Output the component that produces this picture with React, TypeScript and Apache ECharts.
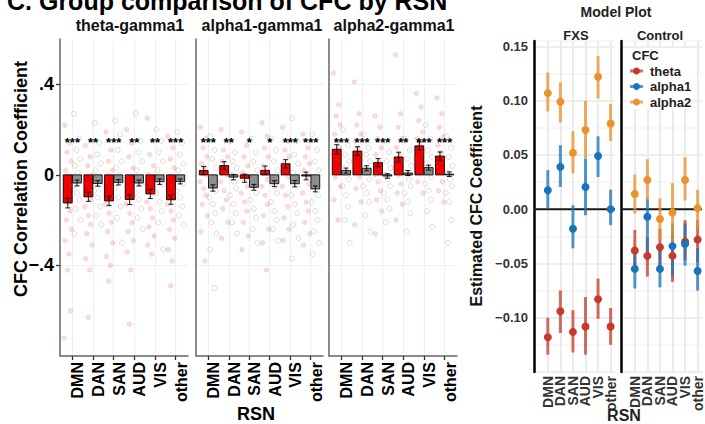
import React, { useEffect, useRef } from "react";
import * as echarts from "echarts";

const FONT = "'Liberation Sans', Arial, Helvetica, sans-serif";

const RSN = ["DMN", "DAN", "SAN", "AUD", "VIS", "other"];
const CAT_POS = [1, 2, 3, 4, 5, 6];
const FACETS = ["theta-gamma1", "alpha1-gamma1", "alpha2-gamma1"];
const LEFT_Y_TICKS = [-0.4, 0, 0.4];
const MODEL_BANDS = ["theta", "alpha1", "alpha2"];

// ---- group means / standard errors (left panel) ----
const THETA_FXS = [-0.124, -0.097, -0.115, -0.109, -0.084, -0.11];
const THETA_CTRL = [-0.036, -0.038, -0.033, -0.036, -0.03, -0.029];
const ALPHA1_FXS = [0.019, 0.041, -0.015, 0.02, 0.049, -0.005];
const ALPHA1_CTRL = [-0.058, -0.01, -0.055, -0.039, -0.039, -0.062];
const ALPHA2_FXS = [0.113, 0.105, 0.054, 0.079, 0.128, 0.083];
const ALPHA2_CTRL = [0.019, 0.029, -0.005, 0.008, 0.032, 0.003];

const THETA_FXS_SE = [0.022, 0.02, 0.021, 0.022, 0.02, 0.02];
const THETA_CTRL_SE = [0.013, 0.012, 0.012, 0.013, 0.012, 0.011];
const ALPHA1_FXS_SE = [0.018, 0.017, 0.018, 0.019, 0.018, 0.017];
const ALPHA1_CTRL_SE = [0.014, 0.012, 0.013, 0.013, 0.014, 0.013];
const ALPHA2_FXS_SE = [0.02, 0.019, 0.018, 0.021, 0.018, 0.018];
const ALPHA2_CTRL_SE = [0.011, 0.011, 0.01, 0.011, 0.011, 0.01];

const THETA_STARS = ["***", "**", "***", "**", "**", "***"];
const ALPHA1_STARS = ["***", "**", "*", "*", "***", "***"];
const ALPHA2_STARS = ["***", "***", "***", "**", "***", "***"];

// ---- individual subject values ----
const THETA_FXS_PTS = [
  [0.22, 0.14, 0.1, 0.06, 0.02, -0.02, -0.05, -0.09, -0.12, -0.16, -0.2, -0.24, -0.29, -0.35, -0.42, -0.6, -0.72],
  [0.13, 0.08, 0.04, 0.0, -0.04, -0.07, -0.11, -0.14, -0.18, -0.22, -0.26, -0.31, -0.37, -0.42, -0.63],
  [0.19, 0.11, 0.06, 0.02, -0.02, -0.06, -0.1, -0.13, -0.17, -0.21, -0.25, -0.3, -0.36, -0.4, -0.47],
  [0.2, 0.14, 0.08, 0.03, -0.01, -0.05, -0.09, -0.13, -0.17, -0.21, -0.25, -0.29, -0.34, -0.42, -0.66],
  [0.25, 0.15, 0.09, 0.04, 0.0, -0.04, -0.08, -0.12, -0.15, -0.19, -0.23, -0.27, -0.31, -0.35],
  [0.17, 0.12, 0.07, 0.03, -0.01, -0.05, -0.09, -0.13, -0.16, -0.2, -0.24, -0.28, -0.33, -0.38, -0.49],
];
const THETA_CTRL_PTS = [
  [0.27, 0.16, 0.11, 0.07, 0.04, 0.01, -0.02, -0.05, -0.08, -0.11, -0.15, -0.2, -0.26],
  [0.23, 0.14, 0.09, 0.05, 0.02, -0.01, -0.04, -0.07, -0.1, -0.14, -0.18, -0.22],
  [0.24, 0.18, 0.11, 0.06, 0.03, 0.0, -0.03, -0.06, -0.1, -0.14, -0.19, -0.3],
  [0.27, 0.15, 0.1, 0.06, 0.02, -0.01, -0.04, -0.08, -0.11, -0.15, -0.19, -0.24],
  [0.2, 0.15, 0.1, 0.06, 0.02, -0.01, -0.04, -0.08, -0.12, -0.16, -0.21, -0.33],
  [0.19, 0.14, 0.09, 0.05, 0.02, -0.01, -0.04, -0.07, -0.1, -0.14, -0.18, -0.22],
];
const ALPHA1_FXS_PTS = [
  [0.21, 0.16, 0.12, 0.08, 0.05, 0.03, 0.0, -0.03, -0.06, -0.09, -0.13, -0.18, -0.25, -0.38],
  [0.2, 0.15, 0.11, 0.08, 0.06, 0.03, 0.0, -0.03, -0.07, -0.11, -0.15, -0.21, -0.28],
  [0.19, 0.13, 0.08, 0.04, 0.01, -0.02, -0.05, -0.08, -0.12, -0.16, -0.21, -0.27, -0.33],
  [0.23, 0.17, 0.12, 0.08, 0.04, 0.01, -0.02, -0.05, -0.09, -0.13, -0.18, -0.24, -0.3, -0.42],
  [0.21, 0.15, 0.11, 0.08, 0.05, 0.02, -0.01, -0.05, -0.09, -0.14, -0.19, -0.24, -0.29],
  [0.18, 0.12, 0.08, 0.05, 0.02, -0.01, -0.04, -0.08, -0.12, -0.16, -0.21, -0.26, -0.31],
];
const ALPHA1_CTRL_PTS = [
  [0.17, 0.11, 0.07, 0.03, -0.01, -0.04, -0.07, -0.1, -0.13, -0.17, -0.21, -0.26, -0.33, -0.5],
  [0.15, 0.1, 0.06, 0.03, 0.0, -0.03, -0.06, -0.09, -0.13, -0.17, -0.21, -0.26],
  [0.16, 0.1, 0.06, 0.02, -0.02, -0.05, -0.08, -0.11, -0.15, -0.19, -0.24, -0.3],
  [0.16, 0.11, 0.06, 0.02, -0.02, -0.05, -0.08, -0.12, -0.16, -0.2, -0.24, -0.29],
  [0.25, 0.15, 0.09, 0.05, 0.01, -0.02, -0.05, -0.09, -0.13, -0.17, -0.22, -0.28, -0.37],
  [0.18, 0.11, 0.06, 0.02, -0.02, -0.05, -0.09, -0.12, -0.16, -0.2, -0.25, -0.3, -0.35],
];
const ALPHA2_FXS_PTS = [
  [0.45, 0.31, 0.26, 0.22, 0.18, 0.15, 0.12, 0.09, 0.06, 0.03, -0.01, -0.05, -0.11, -0.2],
  [0.41, 0.27, 0.22, 0.18, 0.15, 0.12, 0.09, 0.06, 0.03, -0.01, -0.06, -0.12, -0.22],
  [0.26, 0.21, 0.16, 0.12, 0.09, 0.06, 0.03, 0.0, -0.03, -0.07, -0.11, -0.16, -0.26],
  [0.53, 0.27, 0.21, 0.16, 0.12, 0.09, 0.06, 0.03, 0.0, -0.04, -0.08, -0.13, -0.2],
  [0.36, 0.3, 0.24, 0.19, 0.16, 0.13, 0.1, 0.07, 0.04, 0.01, -0.03, -0.08],
  [0.34, 0.27, 0.21, 0.17, 0.13, 0.1, 0.07, 0.04, 0.01, -0.03, -0.07, -0.12],
];
const ALPHA2_CTRL_PTS = [
  [0.2, 0.13, 0.09, 0.06, 0.03, 0.01, -0.02, -0.05, -0.09, -0.14, -0.2, -0.3],
  [0.18, 0.12, 0.09, 0.06, 0.03, 0.01, -0.02, -0.05, -0.08, -0.12, -0.18, -0.25],
  [0.15, 0.1, 0.06, 0.03, 0.0, -0.02, -0.05, -0.08, -0.11, -0.15, -0.21],
  [0.16, 0.11, 0.07, 0.04, 0.01, -0.02, -0.05, -0.08, -0.12, -0.17, -0.25],
  [0.22, 0.16, 0.11, 0.08, 0.05, 0.02, -0.01, -0.04, -0.07, -0.11, -0.16, -0.23],
  [0.17, 0.12, 0.08, 0.04, 0.01, -0.02, -0.05, -0.08, -0.12, -0.2, -0.3],
];

// ---- model plot estimates ----
const FXS_THETA_EST = [-0.118, -0.094, -0.113, -0.108, -0.083, -0.108];
const FXS_THETA_LO = [-0.134, -0.114, -0.132, -0.134, -0.101, -0.125];
const FXS_THETA_HI = [-0.1, -0.075, -0.093, -0.081, -0.064, -0.091];
const FXS_ALPHA1_EST = [0.0175, 0.039, -0.018, 0.0205, 0.049, 0.0];
const FXS_ALPHA1_LO = [0.001, 0.0205, -0.036, -0.0055, 0.0297, -0.0147];
const FXS_ALPHA1_HI = [0.036, 0.059, 0.0037, 0.0467, 0.0672, 0.018];
const FXS_ALPHA2_EST = [0.107, 0.099, 0.052, 0.073, 0.122, 0.079];
const FXS_ALPHA2_LO = [0.09, 0.08, 0.033, 0.047, 0.102, 0.063];
const FXS_ALPHA2_HI = [0.126, 0.117, 0.072, 0.1, 0.141, 0.097];

const CTRL_THETA_EST = [-0.038, -0.043, -0.035, -0.043, -0.03, -0.028];
const CTRL_THETA_LO = [-0.055, -0.062, -0.056, -0.067, -0.047, -0.049];
const CTRL_THETA_HI = [-0.019, -0.026, -0.018, -0.022, -0.01, -0.01];
const CTRL_ALPHA1_EST = [-0.055, -0.007, -0.055, -0.034, -0.032, -0.057];
const CTRL_ALPHA1_LO = [-0.073, -0.047, -0.072, -0.062, -0.052, -0.075];
const CTRL_ALPHA1_HI = [-0.037, 0.01, -0.035, -0.013, -0.013, -0.036];
const CTRL_ALPHA2_EST = [0.014, 0.027, -0.009, -0.003, 0.027, 0.001];
const CTRL_ALPHA2_LO = [-0.004, 0.008, -0.028, -0.035, 0.008, -0.018];
const CTRL_ALPHA2_HI = [0.032, 0.046, 0.01, 0.024, 0.048, 0.018];

// fixed horizontal jitter offsets for the subject dots
const JITTER = [-0.15, 0.09, -0.03, 0.16, -0.1, 0.04, 0.13, -0.17, 0.0, 0.11, -0.07, 0.18, -0.13, 0.06, -0.01, 0.14, -0.18];
const STAR_Y = 0.145;
const DODGE = 0.225;
const MODEL_Y_MIN = -0.15;

const BAND_COLORS = ["#C8392B", "#1B74B9", "#E9922F"];

const fmtLeft = (v: number) => {
  if (Math.abs(v - 0.4) < 1e-9) return ".4";
  if (Math.abs(v) < 1e-9) return "0";
  if (Math.abs(v + 0.4) < 1e-9) return "\u2212.4";
  return "";
};
const fmtRight = (v: number) => {
  const r = Math.round(v * 1000) / 1000;
  const q = r / 0.05;
  if (Math.abs(q - Math.round(q)) > 1e-6) return "";
  if (r < -0.1 - 1e-9 || r > 0.15 + 1e-9) return "";
  return (r < -1e-9 ? "\u2212" : "") + Math.abs(r).toFixed(2);
};

function barSeries(gi: number, off: number, means: number[], fill: string) {
  return {
    type: "custom",
    xAxisIndex: gi,
    yAxisIndex: gi,
    z: 2,
    silent: true,
    data: means.map((m, i) => [CAT_POS[i] + off, m]),
    renderItem: (params: any, api: any) => {
      const x = api.value(0);
      const v = api.value(1);
      const a = api.coord([x - 0.215, v]);
      const b = api.coord([x + 0.215, 0]);
      return {
        type: "rect",
        shape: { x: a[0], y: Math.min(a[1], b[1]), width: b[0] - a[0], height: Math.max(Math.abs(b[1] - a[1]), 0.5) },
        style: { fill, stroke: "#000", lineWidth: 0.9 },
      };
    },
  };
}

function errSeries(gi: number, off: number, means: number[], se: number[]) {
  return {
    type: "custom",
    xAxisIndex: gi,
    yAxisIndex: gi,
    z: 4,
    silent: true,
    data: means.map((m, i) => [CAT_POS[i] + off, m, se[i]]),
    renderItem: (params: any, api: any) => {
      const x = api.value(0);
      const m = api.value(1);
      const e = api.value(2);
      const t = api.coord([x, m + e]);
      const b = api.coord([x, m - e]);
      const w = 2.5;
      const st = { stroke: "#000", lineWidth: 0.9 };
      return {
        type: "group",
        children: [
          { type: "line", shape: { x1: t[0], y1: t[1], x2: b[0], y2: b[1] }, style: st },
          { type: "line", shape: { x1: t[0] - w, y1: t[1], x2: t[0] + w, y2: t[1] }, style: st },
          { type: "line", shape: { x1: b[0] - w, y1: b[1], x2: b[0] + w, y2: b[1] }, style: st },
        ],
      };
    },
  };
}

function starSeries(gi: number, stars: string[]) {
  return {
    type: "custom",
    xAxisIndex: gi,
    yAxisIndex: gi,
    z: 5,
    silent: true,
    data: stars.map((s, i) => [CAT_POS[i], STAR_Y]),
    renderItem: (params: any, api: any) => {
      const p = api.coord([api.value(0), api.value(1)]);
      return {
        type: "text",
        x: p[0],
        y: p[1],
        style: {
          text: stars[params.dataIndex],
          fill: "#000",
          fontSize: 13,
          fontWeight: "bold",
          fontFamily: FONT,
          align: "center",
          verticalAlign: "middle",
        },
      };
    },
  };
}

function ptsSeries(gi: number, off: number, pts: number[][], itemStyle: any, size: number) {
  return {
    type: "scatter",
    xAxisIndex: gi,
    yAxisIndex: gi,
    z: 3,
    silent: true,
    symbolSize: size,
    itemStyle,
    data: pts.flatMap((arr, i) => arr.map((v, k) => [CAT_POS[i] + off + JITTER[k % JITTER.length], v])),
  };
}

function facetSeries(gi: number, fxs: number[], fxsSe: number[], ctrl: number[], ctrlSe: number[], fxsPts: number[][], ctrlPts: number[][], stars: string[]) {
  return [
    barSeries(gi, -DODGE, fxs, "#F00000"),
    barSeries(gi, DODGE, ctrl, "#8F8F8F"),
    ptsSeries(gi, -DODGE, fxsPts, { color: "rgba(235,40,40,0.2)", borderColor: "rgba(225,40,40,0.25)", borderWidth: 0.6 }, 4.5),
    ptsSeries(gi, DODGE, ctrlPts, { color: "rgba(255,255,255,0)", borderColor: "rgba(120,120,120,0.4)", borderWidth: 0.8 }, 5),
    errSeries(gi, -DODGE, fxs, fxsSe),
    errSeries(gi, DODGE, ctrl, ctrlSe),
    starSeries(gi, stars),
  ];
}

function zeroLine(gi: number) {
  return {
    type: "custom",
    xAxisIndex: gi,
    yAxisIndex: gi,
    z: 1,
    silent: true,
    data: [[1, 0]],
    renderItem: (params: any, api: any) => {
      const p = api.coord([1, 0]);
      const cs = params.coordSys;
      return {
        type: "line",
        shape: { x1: cs.x, y1: p[1], x2: cs.x + cs.width, y2: p[1] },
        style: { stroke: "#1a1a1a", lineWidth: 2 },
      };
    },
  };
}

// category labels under the model-plot panels (drawn via the axis scale)
function modelLabels(gi: number) {
  return {
    type: "custom",
    xAxisIndex: gi,
    yAxisIndex: gi,
    z: 5,
    silent: true,
    clip: false,
    data: CAT_POS.map((p) => [p, MODEL_Y_MIN]),
    renderItem: (params: any, api: any) => {
      const p = api.coord([api.value(0), api.value(1)]);
      return {
        type: "text",
        x: p[0],
        y: p[1] + 4,
        rotation: Math.PI / 2,
        style: {
          text: RSN[params.dataIndex],
          fill: "#333",
          fontSize: 14,
          fontWeight: "bold",
          fontFamily: FONT,
          align: "right",
          verticalAlign: "middle",
        },
      };
    },
  };
}

function modelErr(gi: number, lo: number[], hi: number[], color: string) {
  return {
    type: "custom",
    xAxisIndex: gi,
    yAxisIndex: gi,
    z: 3,
    silent: true,
    data: lo.map((l, i) => [CAT_POS[i], l, hi[i]]),
    renderItem: (params: any, api: any) => {
      const a = api.coord([api.value(0), api.value(1)]);
      const b = api.coord([api.value(0), api.value(2)]);
      return {
        type: "line",
        shape: { x1: a[0], y1: a[1], x2: b[0], y2: b[1] },
        style: { stroke: color, lineWidth: 3, opacity: 0.75 },
      };
    },
  };
}

function modelPts(gi: number, est: number[], color: string, name: string) {
  return {
    type: "scatter",
    name,
    xAxisIndex: gi,
    yAxisIndex: gi,
    z: 4,
    silent: true,
    symbolSize: 8,
    itemStyle: { color, opacity: 1 },
    data: est.map((v, i) => [CAT_POS[i], v]),
  };
}

const LEFT_GRIDS = [
  { left: 60, top: 39, width: 128, height: 317 },
  { left: 196, top: 39, width: 127, height: 317 },
  { left: 329, top: 39, width: 128, height: 317 },
];
const RIGHT_GRIDS = [
  { left: 534, top: 41, width: 81, height: 331 },
  { left: 621, top: 41, width: 81, height: 331 },
];

export default function App() {
  const ref = useRef<HTMLDivElement>(null);

  useEffect(() => {
    if (!ref.current) return;
    const chart = echarts.init(ref.current, undefined, { renderer: "svg" });

    const grid = [...LEFT_GRIDS, ...RIGHT_GRIDS].map((g) => ({ ...g, outerBoundsMode: "none", containLabel: false }));

    const xAxis: any[] = [];
    const yAxis: any[] = [];
    for (let f = 0; f < 3; f++) {
      xAxis.push({
        type: "value",
        gridIndex: f,
        min: 0.4,
        max: 6.6,
        axisLine: { show: true, onZero: false, lineStyle: { color: "#666", width: 1.5 } },
        axisTick: { show: true, customValues: CAT_POS, length: 4, lineStyle: { color: "#333", width: 1.3 } },
        axisLabel: {
          customValues: CAT_POS,
          showMinLabel: true,
          showMaxLabel: true,
          hideOverlap: false,
          formatter: (v: number) => RSN[Math.round(v) - 1] ?? "",
          rotate: 90,
          fontSize: 16,
          fontWeight: "bold",
          color: "#000",
          fontFamily: FONT,
          margin: 6,
          verticalAlign: "top",
          lineHeight: 11,
        },
        splitLine: { show: true, lineStyle: { color: "#F0F0F0", width: 1.2 } },
      });
      yAxis.push({
        type: "value",
        gridIndex: f,
        min: -0.8,
        max: 0.6,
        interval: 0.4,
        axisLine: { show: true, onZero: false, lineStyle: { color: "#666", width: 1.5 } },
        axisTick: { show: f === 0, customValues: LEFT_Y_TICKS, length: 4, lineStyle: { color: "#333", width: 1.3 } },
        axisLabel: {
          show: f === 0,
          customValues: LEFT_Y_TICKS,
          formatter: fmtLeft,
          fontSize: 18,
          fontWeight: "bold",
          color: "#000",
          fontFamily: FONT,
          margin: 6,
        },
        splitLine: { show: true, lineStyle: { color: "#F0F0F0", width: 1.2 } },
      });
    }
    for (let g = 0; g < 2; g++) {
      xAxis.push({
        type: "value",
        gridIndex: 3 + g,
        min: -0.1,
        max: 6.35,
        axisLine: { show: false, onZero: false },
        axisTick: { show: false, customValues: CAT_POS },
        axisLabel: { show: false, customValues: CAT_POS },
        splitLine: { show: true, lineStyle: { color: "#EBEBEB", width: 2 } },
      });
      yAxis.push({
        type: "value",
        gridIndex: 3 + g,
        min: MODEL_Y_MIN,
        max: 0.155,
        interval: 0.025,
        axisLine: { show: true, onZero: false, lineStyle: { color: "#000", width: 2.5 } },
        axisTick: { show: false },
        axisLabel: {
          show: g === 0,
          formatter: fmtRight,
          fontSize: 13,
          fontWeight: "bold",
          color: "#333",
          fontFamily: FONT,
          margin: 6,
        },
        splitLine: { show: true, lineStyle: { color: ["#E8E8E8", "#F4F4F4"], width: 1.5 } },
      });
    }

    const series: any[] = [
      ...facetSeries(0, THETA_FXS, THETA_FXS_SE, THETA_CTRL, THETA_CTRL_SE, THETA_FXS_PTS, THETA_CTRL_PTS, THETA_STARS),
      ...facetSeries(1, ALPHA1_FXS, ALPHA1_FXS_SE, ALPHA1_CTRL, ALPHA1_CTRL_SE, ALPHA1_FXS_PTS, ALPHA1_CTRL_PTS, ALPHA1_STARS),
      ...facetSeries(2, ALPHA2_FXS, ALPHA2_FXS_SE, ALPHA2_CTRL, ALPHA2_CTRL_SE, ALPHA2_FXS_PTS, ALPHA2_CTRL_PTS, ALPHA2_STARS),
      zeroLine(3),
      zeroLine(4),
      modelLabels(3),
      modelLabels(4),
      modelErr(3, FXS_THETA_LO, FXS_THETA_HI, BAND_COLORS[0]),
      modelPts(3, FXS_THETA_EST, BAND_COLORS[0], MODEL_BANDS[0]),
      modelErr(3, FXS_ALPHA1_LO, FXS_ALPHA1_HI, BAND_COLORS[1]),
      modelPts(3, FXS_ALPHA1_EST, BAND_COLORS[1], MODEL_BANDS[1]),
      modelErr(3, FXS_ALPHA2_LO, FXS_ALPHA2_HI, BAND_COLORS[2]),
      modelPts(3, FXS_ALPHA2_EST, BAND_COLORS[2], MODEL_BANDS[2]),
      modelErr(4, CTRL_THETA_LO, CTRL_THETA_HI, BAND_COLORS[0]),
      modelPts(4, CTRL_THETA_EST, BAND_COLORS[0], MODEL_BANDS[0]),
      modelErr(4, CTRL_ALPHA1_LO, CTRL_ALPHA1_HI, BAND_COLORS[1]),
      modelPts(4, CTRL_ALPHA1_EST, BAND_COLORS[1], MODEL_BANDS[1]),
      modelErr(4, CTRL_ALPHA2_LO, CTRL_ALPHA2_HI, BAND_COLORS[2]),
      modelPts(4, CTRL_ALPHA2_EST, BAND_COLORS[2], MODEL_BANDS[2]),
    ];

    const txt = (text: string, x: number, y: number, size: number, opts: any = {}) => ({
      type: "text",
      x,
      y,
      rotation: opts.rotation ?? 0,
      z: 100,
      silent: true,
      style: {
        text,
        fill: opts.fill ?? "#000",
        fontSize: size,
        fontWeight: "bold",
        fontFamily: FONT,
        align: opts.align ?? "center",
        verticalAlign: opts.verticalAlign ?? "middle",
      },
    });

    const facetCenters = [130, 262, 394];
    const legendItems: any[] = [];
    MODEL_BANDS.forEach((b, k) => {
      const y = 71 + 15.5 * k;
      legendItems.push({
        type: "line",
        z: 101,
        silent: true,
        shape: { x1: 630, y1: y, x2: 643, y2: y },
        style: { stroke: BAND_COLORS[k], lineWidth: 3, opacity: 0.75 },
      });
      legendItems.push({
        type: "circle",
        z: 102,
        silent: true,
        shape: { cx: 636.5, cy: y, r: 3.5 },
        style: { fill: BAND_COLORS[k] },
      });
      legendItems.push(txt(b, 650, y, 13, { align: "left", fill: "#222" }));
    });

    const elements: any[] = [
      txt("C. Group comparison of CFC by RSN", 7, 1, 25, { align: "left" }),
      ...FACETS.map((f, i) => txt(f, facetCenters[i], 25, 16, { fill: "#111" })),
      txt("CFC Correlation Coefficient", 21, 179, 18, { rotation: Math.PI / 2 }),
      txt("RSN", 256, 414, 18),
      txt("Model Plot", 616, 12, 14, { fill: "#222" }),
      txt("FXS", 576, 35, 13, { fill: "#222" }),
      txt("Control", 660, 35, 13, { fill: "#222" }),
      txt("Estimated CFC Coefficient", 476, 206, 16, { rotation: Math.PI / 2, fill: "#111" }),
      txt("RSN", 624, 415, 16, { fill: "#222" }),
      {
        type: "rect",
        z: 99,
        silent: true,
        shape: { x: 627, y: 48, width: 66, height: 61 },
        style: { fill: "#fff" },
      },
      txt("CFC", 632, 55, 13, { align: "left", fill: "#222" }),
      ...legendItems,
    ];

    chart.setOption({
      animation: false,
      backgroundColor: "#fff",
      textStyle: { fontFamily: FONT },
      grid,
      xAxis,
      yAxis,
      series,
      graphic: { elements },
    });

    return () => chart.dispose();
  }, []);

  return (
    <div
      ref={ref}
      style={{ position: "fixed", left: 0, top: 0, width: 705, height: 424, background: "#fff" }}
    />
  );
}
